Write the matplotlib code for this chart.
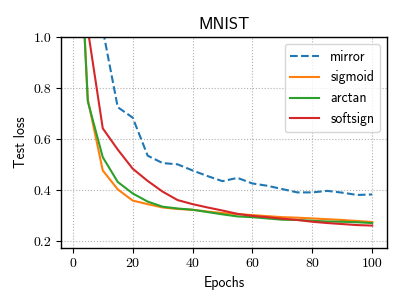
import matplotlib
matplotlib.use("Agg")
import matplotlib.pyplot as plt

epochs = [1, 5, 10, 15, 20, 25, 30, 35, 40, 45, 50, 55, 60, 65, 70, 75, 80, 85, 90, 95, 100]
mirror = [2.6, 1.9, 1.03, 0.725, 0.684, 0.535, 0.506, 0.501, 0.477, 0.455, 0.435, 0.448,
          0.426, 0.417, 0.404, 0.391, 0.391, 0.397, 0.390, 0.381, 0.383]
sigmoid = [1.7, 0.755, 0.477, 0.403, 0.359, 0.345, 0.332, 0.326, 0.323, 0.316, 0.310, 0.306,
           0.302, 0.298, 0.294, 0.292, 0.289, 0.286, 0.283, 0.279, 0.275]
arctan = [1.7, 0.748, 0.529, 0.432, 0.387, 0.355, 0.335, 0.328, 0.323, 0.314, 0.305, 0.297,
          0.294, 0.289, 0.284, 0.283, 0.280, 0.277, 0.276, 0.274, 0.271]
softsign = [2.2, 1.03, 0.642, 0.559, 0.484, 0.436, 0.394, 0.361, 0.345, 0.332, 0.320, 0.307,
            0.299, 0.294, 0.288, 0.283, 0.276, 0.271, 0.267, 0.263, 0.261]
xticks = [0, 20, 40, 60, 80, 100]
yticks = [0.2, 0.4, 0.6, 0.8, 1.0]

plt.rcParams['axes.formatter.use_mathtext'] = True
fig = plt.figure(figsize=(4.07, 3.05), dpi=100)
ax = fig.add_axes([61/407, 1 - 248.3/305, (387 - 61)/407, (248.3 - 37)/305])

ax.plot(epochs, mirror, color='#1f77b4', ls='--', lw=1.5, label='mirror')
ax.plot(epochs, sigmoid, color='#ff7f0e', lw=1.5, label='sigmoid')
ax.plot(epochs, arctan, color='#2ca02c', lw=1.5, label='arctan')
ax.plot(epochs, softsign, color='#d62728', lw=1.5, label='softsign')

ax.set_ylim(0.172, 1.0)
ax.set_xticks(xticks)
ax.set_yticks(yticks)
ax.set_xticklabels([str(v) for v in xticks], fontfamily='cmr10', fontsize=10)
ax.set_yticklabels([f"{v:.1f}" for v in yticks], fontfamily='cmr10', fontsize=10)
ax.grid(True, ls=':', color='#b0b0b0', lw=0.8)
ax.tick_params(direction='out', length=3.5, width=0.8)
for s in ax.spines.values():
    s.set_linewidth(1.0)

ax.set_xlabel('Epochs', fontfamily='cmss10', fontsize=10)
ax.set_ylabel('Test loss', fontfamily='cmss10', fontsize=10)
ax.set_title('MNIST', fontfamily='cmss10', fontsize=12)
ax.legend(loc='upper right', prop={'family': 'cmss10', 'size': 10}, handlelength=2.1)

fig.savefig('out.png', dpi=100)
